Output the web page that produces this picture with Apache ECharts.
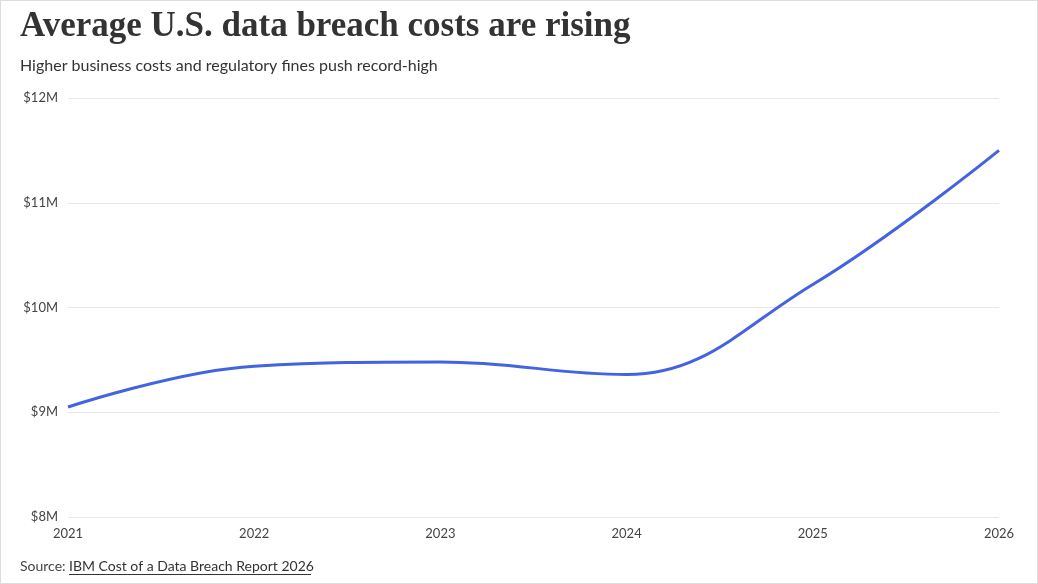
<!DOCTYPE html>
<html>
<head>
  <meta charset="utf-8">
  <title>Data breach costs</title>
  <script src="https://cdn.jsdelivr.net/npm/echarts@6/dist/echarts.min.js"></script>
  <style>
    html, body { margin: 0; padding: 0; background: #fff; }
    #chart { width: 1038px; height: 584px; box-sizing: border-box; border: 1px solid #ddd; }
  </style>
</head>
<body>
<div id="chart"></div>
<script>
  const years = ['2021', '2022', '2023', '2024', '2025', '2026'];
  const costs = [9.05, 9.44, 9.48, 9.36, 10.22, 11.5];
  const yTicks = [8, 9, 10, 11, 12];

  const chart = echarts.init(document.getElementById('chart'));
  const labelColor = '#4363e0';

  const points = costs.map(function (v, i) {
    const item = { value: v };
    if (i === 0) item.label = { align: 'left', offset: [-2, 0] };
    if (i === costs.length - 1) item.label = { align: 'right', offset: [4, 0] };
    return item;
  });

  chart.setOption({
    animation: false,
    textStyle: { fontFamily: 'Lato' },
    grid: { left: 67, right: 38, top: 97, bottom: 66 },
    xAxis: {
      type: 'category',
      data: years,
      boundaryGap: false,
      axisLine: { show: false },
      axisTick: { show: false },
      axisLabel: { color: '#444', fontSize: 13, margin: 10 }
    },
    yAxis: {
      type: 'value',
      min: yTicks[0],
      max: yTicks[yTicks.length - 1],
      interval: 1,
      axisLabel: { color: '#444', fontSize: 13, margin: 10, formatter: function (v) { return '$' + v + 'M'; } },
      splitLine: { lineStyle: { color: '#e8e8e8' } }
    },
    series: [{
      type: 'line',
      data: points,
      smooth: 0.4,
      symbol: 'circle',
      symbolSize: 1,
      showSymbol: true,
      itemStyle: { color: '#4363e0', opacity: 0 },
      lineStyle: { color: '#4363e0', width: 3 },
      label: {
        show: true,
        position: 'bottom',
        distance: 4,
        color: labelColor,
        fontSize: 12,
        formatter: function (p) { return '$' + p.value + 'M'; }
      }
    }],
    graphic: [
      { type: 'text', left: 19, top: 8, style: { text: 'Average U.S. data breach costs are rising', font: 'bold 35px "Liberation Serif"', fill: '#333' } },
      { type: 'text', left: 19, top: 57, style: { text: 'Higher business costs and regulatory fines push record-high', font: '16px Lato', fill: '#333' } },
      { type: 'text', left: 19, top: 558, style: { text: 'Source:', font: '14px Lato', fill: '#444' } },
      { type: 'text', left: 68, top: 558, style: { text: 'IBM Cost of a Data Breach Report 2026', font: '14px Lato', fill: '#333' } },
      { type: 'line', shape: { x1: 68, y1: 573.5, x2: 310, y2: 573.5 }, style: { stroke: '#333', lineWidth: 1 } }
    ]
  });
</script>
</body>
</html>
